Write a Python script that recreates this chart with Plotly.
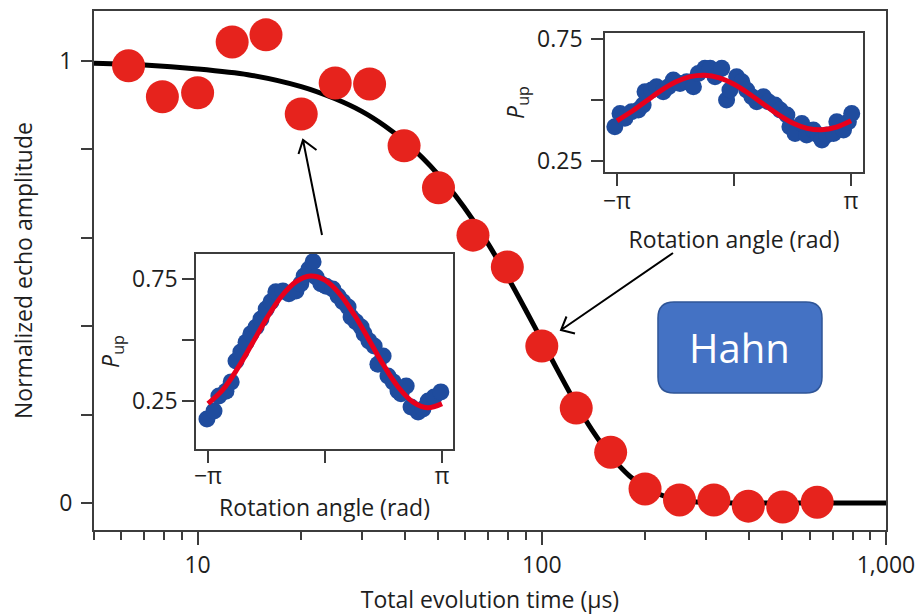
import math
import plotly.graph_objects as go

# ---------------- data ----------------
# main panel: Hahn echo decay
t_us = [6.3, 7.9, 10.0, 12.6, 15.8, 20.0, 25.1, 31.6, 39.8, 50.1, 63.1, 79.4,
        100.0, 125.9, 158.5, 199.5, 251.2, 316.2, 398.1, 501.2, 631.0]
echo = [0.989, 0.919, 0.928, 1.043, 1.059, 0.880, 0.950, 0.948, 0.808, 0.713,
        0.606, 0.534, 0.355, 0.215, 0.115, 0.032, 0.007, 0.007, -0.007, -0.009, 0.002]

# fitted decay curve
fit_t = [5, 7, 10, 14, 20, 25, 30, 35, 40, 45, 50, 56, 63, 70, 80, 90, 100, 110,
         125, 140, 160, 180, 200, 230, 260, 300, 400, 600, 1000]
fit_v = [0.995, 0.991, 0.982, 0.969, 0.942, 0.915, 0.886, 0.853, 0.818, 0.781,
         0.743, 0.696, 0.641, 0.585, 0.508, 0.435, 0.368, 0.307, 0.228, 0.165,
         0.103, 0.061, 0.035, 0.014, 0.005, 0.001, 0.0, 0.0, 0.0]

# inset 1 (lower left): Rabi-type oscillation at short time
ins1_theta = [-3.17, -2.98, -2.85, -2.66, -2.52, -2.39, -2.26, -2.12, -1.99, -1.85,
              -1.72, -1.58, -1.45, -1.32, -1.13, -0.97, -0.78, -0.65, -0.56, -0.43,
              -0.32, -0.24, -0.11, 0.03, 0.21, 0.35, 0.48, 0.62, 0.70, 0.83,
              0.97, 1.05, 1.18, 1.32, 1.42, 1.56, 1.69, 1.83, 1.96, 2.04,
              2.18, 2.31, 2.50, 2.63, 2.77, 2.93, 3.11]
ins1_pup = [0.176, 0.209, 0.270, 0.290, 0.328, 0.414, 0.450, 0.490, 0.525, 0.553,
            0.586, 0.627, 0.656, 0.697, 0.700, 0.689, 0.700, 0.730, 0.762, 0.790,
            0.820, 0.758, 0.730, 0.720, 0.709, 0.680, 0.656, 0.635, 0.594, 0.574,
            0.553, 0.525, 0.496, 0.475, 0.400, 0.434, 0.352, 0.328, 0.291, 0.279,
            0.311, 0.225, 0.205, 0.217, 0.250, 0.266, 0.287]
fit1_theta = [-3.1416, -2.7489, -2.3562, -1.9635, -1.5708, -1.1781, -0.7854, -0.3927, 0.0,
              0.3927, 0.7854, 1.1781, 1.5708, 1.9635, 2.3562, 2.7489, 3.1416]
fit1_pup = [0.239, 0.295, 0.381, 0.483, 0.587, 0.677, 0.738, 0.762, 0.745,
            0.689, 0.603, 0.501, 0.397, 0.307, 0.246, 0.222, 0.239]

# inset 2 (upper right): reduced contrast at ~100 us
ins2_theta = [-3.20, -3.06, -2.93, -2.75, -2.57, -2.44, -2.39, -2.21, -2.08, -1.90,
              -1.76, -1.63, -1.45, -1.27, -1.09, -0.96, -0.78, -0.64, -0.51, -0.33,
              -0.20, -0.11, 0.07, 0.21, 0.34, 0.48, 0.61, 0.79, 0.92, 1.10,
              1.24, 1.42, 1.50, 1.64, 1.82, 1.95, 2.13, 2.26, 2.36, 2.49,
              2.67, 2.76, 2.94, 3.07, 3.16]
ins2_pup = [0.391, 0.445, 0.425, 0.452, 0.459, 0.480, 0.534, 0.541, 0.555, 0.534,
            0.555, 0.582, 0.568, 0.575, 0.555, 0.609, 0.630, 0.630, 0.596, 0.630,
            0.500, 0.541, 0.596, 0.575, 0.541, 0.514, 0.493, 0.514, 0.493, 0.480,
            0.459, 0.439, 0.391, 0.363, 0.404, 0.357, 0.377, 0.357, 0.336, 0.357,
            0.363, 0.411, 0.377, 0.411, 0.445]
fit2_theta = fit1_theta
fit2_pup = [0.415, 0.453, 0.496, 0.539, 0.574, 0.596, 0.602, 0.591, 0.565,
            0.527, 0.484, 0.441, 0.406, 0.384, 0.378, 0.389, 0.415]

main_xticks = [10, 100, 1000]
main_xticktext = ["10", "100", "1,000"]
minor_xticks = [5, 6, 7, 8, 9, 20, 30, 40, 50, 60, 70, 80, 90,
                200, 300, 400, 500, 600, 700, 800, 900]
main_yticks = [0, 1.0]
main_yticktext = ["0", "1"]
minor_yticks = [0.2, 0.4, 0.6, 0.8]
ins_yticks = [0.25, 0.75]
ins_yticktext = ["0.25", "0.75"]
ins_minor_yticks = [0.5]
ins_xticks = [-math.pi, math.pi]
ins_xticktext = ["\u2212\u03c0", "\u03c0"]
ins_minor_xticks = [0]

# ---------------- style ----------------
FONT = "Open Sans"
TXT = "#1e1e1e"
AX = "#3c3c3c"
RED_DOT = "#e6231d"
BLUE_DOT = "#1f4c9e"
RED_LINE = "#e8001c"

W, H = 922, 615
ML, MR, MT, MB = 94, 36, 11, 85
PW, PH = W - ML - MR, H - MT - MB

fig = go.Figure()

fig.add_trace(go.Scatter(x=fit_t, y=fit_v, mode="lines",
                         line=dict(color="black", width=5, shape="spline", smoothing=0.8),
                         hoverinfo="skip", showlegend=False))
fig.add_trace(go.Scatter(x=t_us, y=echo, mode="markers",
                         marker=dict(color=RED_DOT, size=33, line=dict(width=0)),
                         showlegend=False))

fig.add_trace(go.Scatter(x=ins1_theta, y=ins1_pup, mode="markers", xaxis="x2", yaxis="y2",
                         marker=dict(color=BLUE_DOT, size=17, line=dict(width=0)),
                         cliponaxis=False, showlegend=False))
fig.add_trace(go.Scatter(x=fit1_theta, y=fit1_pup, mode="lines", xaxis="x2", yaxis="y2",
                         line=dict(color=RED_LINE, width=5, shape="spline"),
                         showlegend=False))

fig.add_trace(go.Scatter(x=ins2_theta, y=ins2_pup, mode="markers", xaxis="x3", yaxis="y3",
                         marker=dict(color=BLUE_DOT, size=17, line=dict(width=0)),
                         cliponaxis=False, showlegend=False))
fig.add_trace(go.Scatter(x=fit2_theta, y=fit2_pup, mode="lines", xaxis="x3", yaxis="y3",
                         line=dict(color=RED_LINE, width=5, shape="spline"),
                         showlegend=False))

tickfont = dict(family=FONT, size=23, color=TXT)
titlefont = dict(family=FONT, size=23, color=TXT)


def inset_minor(vals):
    return dict(ticks="outside", ticklen=12, tickwidth=1.6, tickcolor=AX,
                tickmode="array", tickvals=vals, showgrid=False)


fig.update_layout(
    width=W, height=H,
    margin=dict(l=ML, r=MR, t=MT, b=MB, pad=0, autoexpand=False),
    paper_bgcolor="white", plot_bgcolor="white",
    font=dict(family=FONT, color=TXT),
    xaxis=dict(type="log", range=[math.log10(5), 3], automargin=False,
               showline=True, linecolor=AX, linewidth=2, mirror=True,
               ticks="outside", ticklen=13, tickwidth=2, tickcolor=AX,
               tickmode="array", tickvals=main_xticks, ticktext=main_xticktext,
               minor=dict(ticks="outside", ticklen=8, tickwidth=1.6, tickcolor=AX,
                          tickmode="array", tickvals=minor_xticks, showgrid=False),
               showgrid=False, zeroline=False, tickfont=tickfont,
               title=dict(text="Total evolution time (\u00b5s)", font=titlefont, standoff=17)),
    yaxis=dict(range=[-0.061, 1.113], automargin=False,
               showline=True, linecolor=AX, linewidth=2, mirror=True,
               ticks="outside", ticklen=11, tickwidth=2, tickcolor=AX,
               tickmode="array", tickvals=main_yticks, ticktext=main_yticktext,
               minor=dict(ticks="outside", ticklen=11, tickwidth=2, tickcolor=AX,
                          tickmode="array", tickvals=minor_yticks, showgrid=False),
               ticklabelstandoff=4,
               showgrid=False, zeroline=False, tickfont=tickfont,
               title=dict(text="Normalized echo amplitude", font=titlefont, standoff=20)),
    xaxis2=dict(domain=[0.1288, 0.4533], anchor="y2", range=[-3.464, 3.437], automargin=False,
                showline=True, linecolor=AX, linewidth=1.6, mirror=True,
                ticks="outside", ticklen=12, tickwidth=1.6, tickcolor=AX,
                tickmode="array", tickvals=ins_xticks, ticktext=ins_xticktext,
                minor=inset_minor(ins_minor_xticks),
                ticklabelstandoff=-6,
                showgrid=False, zeroline=False, tickfont=tickfont,
                title=dict(text="Rotation angle (rad)", font=titlefont, standoff=0)),
    yaxis2=dict(domain=[0.1561, 0.5318], anchor="x2", range=[0.053, 0.852], automargin=False,
                showline=True, linecolor=AX, linewidth=1.6, mirror=True,
                ticks="outside", ticklen=12, tickwidth=1.6, tickcolor=AX,
                tickmode="array", tickvals=ins_yticks, ticktext=ins_yticktext,
                minor=inset_minor(ins_minor_yticks),
                showgrid=False, zeroline=False, tickfont=tickfont,
                title=dict(text="<i>P</i><sub>up</sub>", font=titlefont, standoff=6)),
    xaxis3=dict(domain=[0.6452, 0.9710], anchor="y3", range=[-3.464, 3.464], automargin=False,
                showline=True, linecolor=AX, linewidth=1.6, mirror=True,
                ticks="outside", ticklen=12, tickwidth=1.6, tickcolor=AX,
                tickmode="array", tickvals=ins_xticks, ticktext=ins_xticktext,
                minor=inset_minor(ins_minor_xticks),
                ticklabelstandoff=-4,
                showgrid=False, zeroline=False, tickfont=tickfont,
                title=dict(text="Rotation angle (rad)", font=titlefont, standoff=17)),
    yaxis3=dict(domain=[0.6898, 0.9576], anchor="x3", range=[0.205, 0.775], automargin=False,
                showline=True, linecolor=AX, linewidth=1.6, mirror=True,
                ticks="outside", ticklen=12, tickwidth=1.6, tickcolor=AX,
                tickmode="array", tickvals=ins_yticks, ticktext=ins_yticktext,
                minor=inset_minor(ins_minor_yticks),
                ticklabelstandoff=4,
                showgrid=False, zeroline=False, tickfont=tickfont,
                title=dict(text="<i>P</i><sub>up</sub>", font=titlefont, standoff=6)),
)


def px2paper(px, py):
    return (px - ML) / PW, (H - MB - py) / PH


# Hahn label box (rounded rectangle)
x0, x1, yb, yt = 0.7121, 0.9192, 0.2640, 0.4393
rx, ry = 16 / PW, 16 / PH
path = (f"M {x0+rx},{yb} L {x1-rx},{yb} Q {x1},{yb} {x1},{yb+ry} "
        f"L {x1},{yt-ry} Q {x1},{yt} {x1-rx},{yt} L {x0+rx},{yt} "
        f"Q {x0},{yt} {x0},{yt-ry} L {x0},{yb+ry} Q {x0},{yb} {x0+rx},{yb} Z")
fig.add_shape(type="path", path=path, xref="paper", yref="paper",
              fillcolor="#4472c4", line=dict(color="#2f5597", width=1.5), layer="above")
fig.add_annotation(x=(x0 + x1) / 2, y=(yb + yt) / 2, xref="paper", yref="paper",
                   xanchor="center", yanchor="middle",
                   text="Hahn", showarrow=False,
                   font=dict(family=FONT, size=40, color="white"))


# open-chevron arrows pointing from the insets to their data points
def arrow_path(tail, tip, arm_a, arm_b):
    pts = [px2paper(*p) for p in (tail, tip, arm_a, arm_b)]
    (tx, ty), (hx, hy), (ax_, ay_), (bx, by) = pts
    return (f"M {tx},{ty} L {hx},{hy} M {ax_},{ay_} L {hx},{hy} L {bx},{by}")


for tail, tip, a, b in [((322, 235), (303, 140), (298.5, 154), (316.5, 150)),
                        ((673, 253), (561, 330), (575, 333.5), (566.5, 316.5))]:
    fig.add_shape(type="path", path=arrow_path(tail, tip, a, b),
                  xref="paper", yref="paper", fillcolor="rgba(0,0,0,0)",
                  line=dict(color="black", width=2), layer="above")

fig.write_html("out.html")
